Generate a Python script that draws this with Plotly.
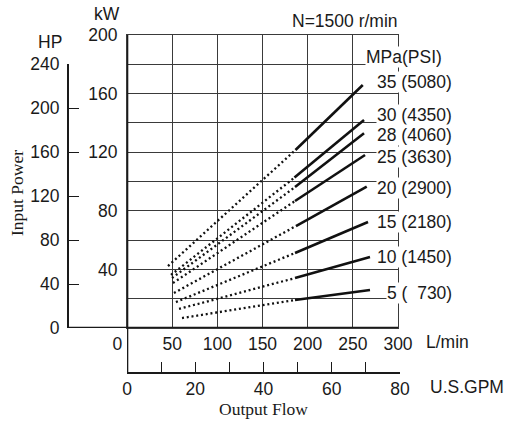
import plotly.graph_objects as go

# ---- data ----
pressures_mpa = [35, 30, 28, 25, 20, 15, 10, 5]
pressures_psi = ["5080", "4350", "4060", "3630", "2900", "2180", "1450", "\u00a0\u00a0730"]

flow_min = [45.4, 48.7, 49.8, 50.9, 52.0, 54.2, 57.6, 60.9]          # L/min, dotted start
power_min = [42.3, 36.2, 34.1, 30.7, 23.9, 17.7, 13.0, 6.8]          # kW
flow_knee = [186.5, 185.4, 186.0, 186.0, 187.0, 186.0, 186.0, 186.0]  # L/min, solid start
power_knee = [121.5, 102.7, 96.2, 86.7, 69.6, 51.2, 34.1, 19.1]      # kW
flow_max = [261.0, 262.4, 262.4, 263.5, 265.4, 266.8, 269.0, 269.0]   # L/min, solid end
power_max = [165.9, 142.0, 132.9, 118.1, 96.5, 72.4, 48.5, 25.9]     # kW

lmin_ticks = [0, 50, 100, 150, 200, 250, 300]
kw_ticks = [0, 20, 40, 60, 80, 100, 120, 140, 160, 180, 200]
hp_ticks = [0, 40, 80, 120, 160, 200, 240]
gpm_ticks = [0, 10, 20, 30, 40, 50, 60, 70, 80]

# ---- layout geometry (page pixels) ----
W, H = 507, 421
ML, MT = 68, 35
PW, PH = 332, 338
MR, MB = W - ML - PW, H - MT - PH
def px(xp): return (xp - ML) / PW
def py(yp): return (MT + PH - yp) / PH

# small vertical nudges (px) of the pressure labels relative to their line ends
label_nudge = [3, 5, -2, -2, -1, 0, 0, -3]

SANS = "Liberation Sans, Arial, sans-serif"
SERIF = "Liberation Serif, Times New Roman, serif"
FS = 17.5
INK = "#1a1a1a"
GRID = "#3a3a3a"

fig = go.Figure()
for i in range(len(pressures_mpa)):
    fig.add_trace(go.Scatter(
        x=[flow_min[i], flow_knee[i]], y=[power_min[i], power_knee[i]],
        mode="lines", line=dict(color="#111", width=2.3, dash="2px,2.8px"),
        hoverinfo="skip", showlegend=False))
    fig.add_trace(go.Scatter(
        x=[flow_knee[i], flow_max[i]], y=[power_knee[i], power_max[i]],
        mode="lines", line=dict(color="#111", width=2.6),
        hoverinfo="skip", showlegend=False))

# invisible anchor trace for the GPM / HP axes
fig.add_trace(go.Scatter(x=[0], y=[0], xaxis="x2", yaxis="y2", mode="markers",
                         marker=dict(opacity=0), hoverinfo="skip", showlegend=False))

lmin_text = [("0" + "\u00a0" * 4) if v == 0 else str(v) for v in lmin_ticks]
kw_text = ["" if (v == 0 or v % 40) else str(v) for v in kw_ticks]
gpm_text = ["" if v % 20 else str(v) for v in gpm_ticks]

fig.update_layout(
    width=W, height=H,
    margin=dict(l=ML, r=MR, t=MT, b=MB, pad=0),
    paper_bgcolor="white", plot_bgcolor="rgba(0,0,0,0)",
    font=dict(family=SANS, size=FS, color=INK),
    showlegend=False,
    xaxis=dict(domain=[px(127), px(398)], range=[0, 300], anchor="y",
               tickmode="array", tickvals=lmin_ticks, ticktext=lmin_text,
               ticks="", showgrid=True, gridcolor=GRID, gridwidth=1,
               showline=True, mirror=True, linecolor=GRID, linewidth=1,
               zeroline=False, fixedrange=True, ticklabelstandoff=0),
    yaxis=dict(domain=[py(328), 1], range=[0, 200], anchor="x",
               tickmode="array", tickvals=kw_ticks, ticktext=kw_text,
               ticks="", showgrid=True, gridcolor=GRID, gridwidth=1,
               showline=True, mirror=True, linecolor=GRID, linewidth=1,
               zeroline=False, fixedrange=True, ticklabelstandoff=5),
    xaxis2=dict(domain=[px(127), 1], range=[0, 80], anchor="free", position=0,
                tickmode="array", tickvals=gpm_ticks, ticktext=gpm_text,
                ticks="inside", ticklen=10, tickwidth=1.3, tickcolor=INK,
                showgrid=False, zeroline=False, showline=True, linecolor=INK,
                linewidth=2.2, fixedrange=True, ticklabelstandoff=0),
    yaxis2=dict(domain=[py(328), py(64)], range=[0, 240], anchor="free", position=0,
                tickmode="array", tickvals=hp_ticks,
                ticks="inside", ticklen=10, tickwidth=1.3, tickcolor=INK,
                showgrid=False, zeroline=False, showline=True, linecolor=INK,
                linewidth=2.2, fixedrange=True, ticklabelstandoff=4),
    shapes=[
        dict(type="line", xref="x", x0=0, x1=0, yref="paper", y0=0, y1=1,
             line=dict(color=INK, width=2.6)),
        dict(type="line", xref="paper", x0=0, x1=px(398), yref="y", y0=0, y1=0,
             line=dict(color=INK, width=2.6)),
    ],
)

ann = []
for i in range(len(pressures_mpa)):
    ann.append(dict(xref="paper", x=px(453), xanchor="right", yref="y", y=power_max[i],
                    yanchor="middle", yshift=label_nudge[i],
                    text=f"{pressures_mpa[i]} ({pressures_psi[i]})",
                    showarrow=False, bgcolor="white", borderpad=0,
                    font=dict(family=SANS, size=FS, color=INK)))
labels = [
    ("kW", 107, 14, SANS, FS, 0, False),
    ("HP", 50, 42, SANS, FS, 0, False),
    ("N=1500 r/min", 345, 21, SANS, FS, 0, False),
    ("MPa(PSI)", 404, 57, SANS, FS, 0, True),
    ("L/min", 447, 342, SANS, FS, 0, False),
    ("U.S.GPM", 467, 387, SANS, FS, 0, False),
    ("Output Flow", 263, 409, SERIF, 17.5, 0, False),
    ("Input Power", 17, 193, SERIF, 17.5, -90, False),
]
for t, x, y, fam, size, ang, bg in labels:
    ann.append(dict(xref="paper", x=px(x), yref="paper", y=py(y),
                    xanchor="center", yanchor="middle", text=t, textangle=ang,
                    showarrow=False, bgcolor="white" if bg else None, borderpad=0,
                    font=dict(family=fam, size=size, color=INK)))
fig.update_layout(annotations=ann)

fig.write_html("out.html", config={"displayModeBar": False},
               post_script="document.body.style.margin='0px';")
